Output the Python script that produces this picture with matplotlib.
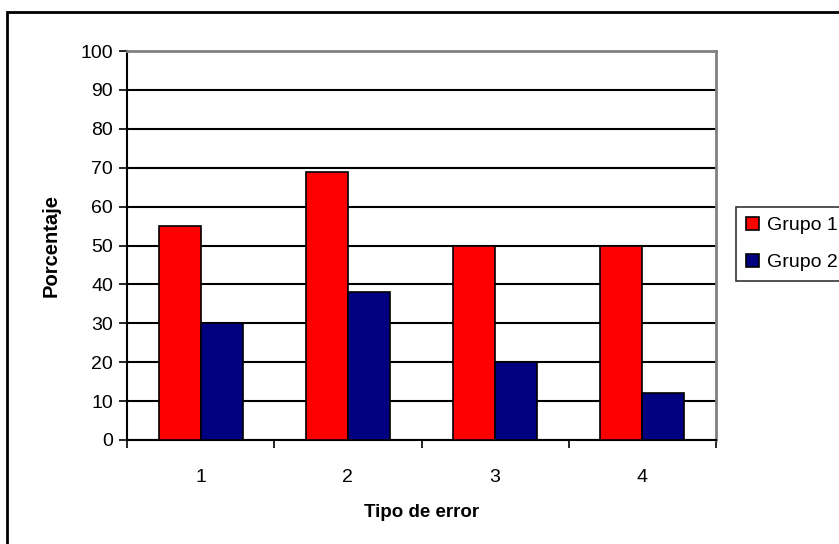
import matplotlib
matplotlib.use("Agg")
import matplotlib.pyplot as plt
from matplotlib.patches import Rectangle
from matplotlib.ticker import MultipleLocator, FixedLocator
import numpy as np

categorias = ['1', '2', '3', '4']
grupo1 = [55, 69, 50, 50]
grupo2 = [30, 38, 20, 12]
series = ['Grupo 1', 'Grupo 2']

plt.rcParams['font.family'] = ['Liberation Sans', 'DejaVu Sans']
plt.rcParams['font.size'] = 14

W, H = 839, 544
fig = plt.figure(figsize=(W/100, H/100), dpi=100)
ax = fig.add_axes([127/W, (H-440)/H, (716-127)/W, (440-51)/H])

x = np.arange(len(categorias))
w = 0.2857
ax.bar(x - w/2, grupo1, w, color='#FF0000', edgecolor='black', linewidth=1.2,
       label=series[0], zorder=3)
ax.bar(x + w/2, grupo2, w, color='#000080', edgecolor='black', linewidth=1.2,
       label=series[1], zorder=3)

ax.set_xlim(-0.5, len(categorias) - 0.5)
ax.set_ylim(0, 100)
ax.yaxis.set_major_locator(MultipleLocator(10))
ax.yaxis.grid(True, color='black', linewidth=1.5, zorder=0)

ax.set_xticks(x)
ax.set_xticklabels(categorias)
ax.xaxis.set_minor_locator(FixedLocator(np.arange(-0.5, len(categorias), 1)))
ax.tick_params(axis='x', which='major', length=0, pad=21)
ax.tick_params(axis='x', which='minor', length=6, width=1.2, direction='out')
ax.tick_params(axis='y', length=6, width=1.2, direction='out', pad=4)

for s in ['left', 'bottom']:
    ax.spines[s].set_color('black')
    ax.spines[s].set_linewidth(1.5)
for s in ['top', 'right']:
    ax.spines[s].set_color('#808080')
    ax.spines[s].set_linewidth(2)

ax.set_ylabel('Porcentaje', fontweight='bold', fontsize=14.5, labelpad=14)
ax.set_xlabel('Tipo de error', fontweight='bold', fontsize=13.5, labelpad=13)

leg = fig.legend(loc='upper left', bbox_to_anchor=(736/W, 1 - 207/H),
                 frameon=True, fancybox=False, edgecolor='black',
                 handlelength=0.7, handleheight=0.7, handletextpad=0.4,
                 borderpad=0.5, labelspacing=1.0, fontsize=14, borderaxespad=0)
leg.get_frame().set_linewidth(1.2)

# marco exterior
fig.add_artist(Rectangle((7/W, -0.1), 1.2, 1 - 12/H + 0.1, transform=fig.transFigure,
                         fill=False, edgecolor='black', linewidth=2))

fig.savefig('out.png', dpi=100)
